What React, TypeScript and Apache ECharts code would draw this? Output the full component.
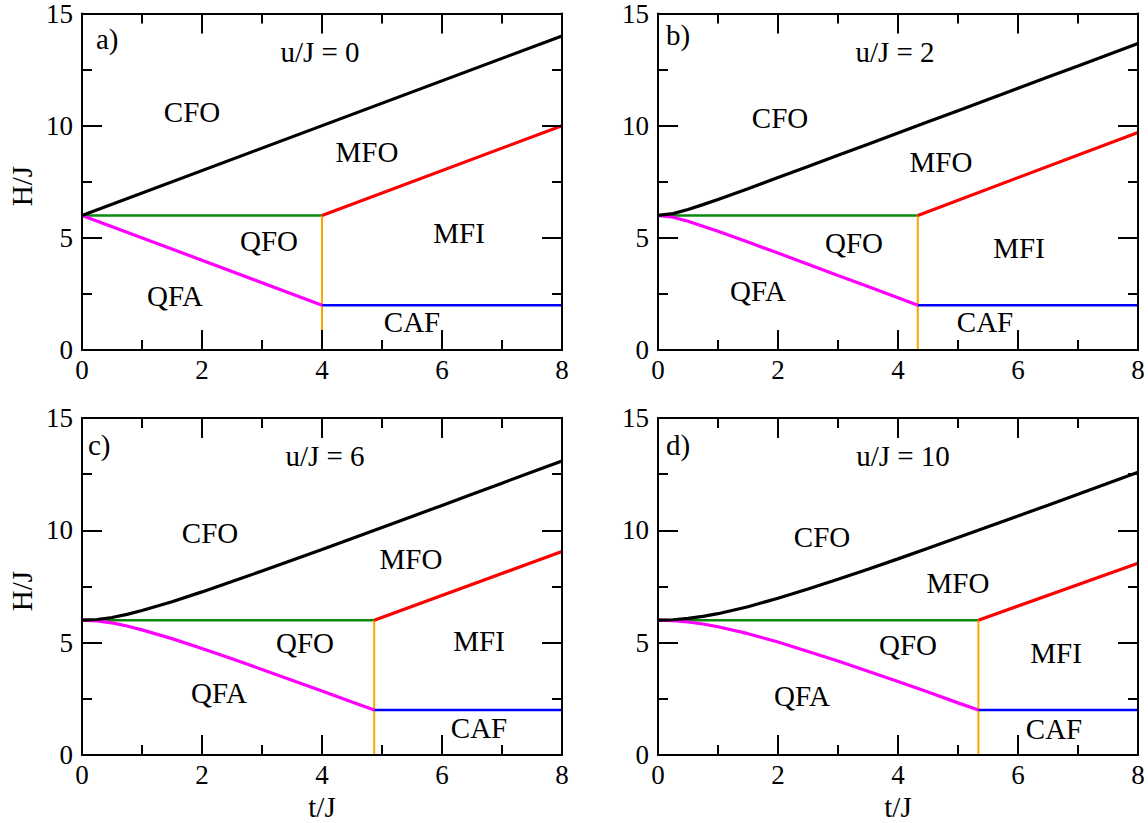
import React, { useEffect, useRef } from "react";
import * as echarts from "echarts";

// ---------- data ----------
const PANEL_TAGS = ["a)", "b)", "c)", "d)"];
const U_VALUES = [0, 2, 6, 10];

// transition point t_c where QFO / MFO / MFI / CAF meet, and red-line end value at t = 8
const T_CRIT = [4, 4.33, 4.87, 5.34];
const RED_END = [10, 9.7, 9.06, 8.54];
const H_SAT = 6; // green line level
const H_CAF = 2; // blue line level

const T_GRID = [0, 0.25, 0.5, 0.75, 1, 1.5, 2, 2.5, 3, 3.5, 4, 4.5, 5, 5.5, 6, 6.5, 7, 7.5, 8];

// black (CFO boundary)
const BLACK_T_A = [0, 8];
const BLACK_H_A = [6, 14];
const BLACK_H_B = [6.0, 6.08, 6.26, 6.48, 6.71, 7.19, 7.69, 8.18, 8.68, 9.17, 9.67, 10.17, 10.67, 11.17, 11.67, 12.17, 12.66, 13.16, 13.66];
const BLACK_H_C = [6.0, 6.03, 6.12, 6.26, 6.43, 6.82, 7.26, 7.72, 8.19, 8.67, 9.15, 9.64, 10.13, 10.62, 11.11, 11.61, 12.1, 12.6, 13.09];
const BLACK_H_D = [6.0, 6.02, 6.08, 6.17, 6.29, 6.6, 6.98, 7.39, 7.82, 8.27, 8.73, 9.2, 9.68, 10.16, 10.64, 11.12, 11.61, 12.1, 12.59];

// magenta (QFA boundary)
const MAG_T_A = [0, 4];
const MAG_H_A = [6, 2];
const MAG_T_B = [0, 0.25, 0.5, 0.75, 1, 1.5, 2, 2.5, 3, 3.5, 4, 4.33];
const MAG_H_B = [6.0, 5.92, 5.74, 5.52, 5.29, 4.81, 4.32, 3.82, 3.32, 2.83, 2.33, 2.0];
const MAG_T_C = [0, 0.25, 0.5, 0.75, 1, 1.5, 2, 2.5, 3, 3.5, 4, 4.5, 4.87];
const MAG_H_C = [6.0, 5.97, 5.88, 5.74, 5.57, 5.18, 4.74, 4.28, 3.81, 3.33, 2.85, 2.36, 2.0];
const MAG_T_D = [0, 0.25, 0.5, 0.75, 1, 1.5, 2, 2.5, 3, 3.5, 4, 4.5, 5, 5.34];
const MAG_H_D = [6.0, 5.98, 5.92, 5.83, 5.71, 5.4, 5.03, 4.61, 4.18, 3.73, 3.27, 2.8, 2.32, 2.0];

const BLACK_T = [BLACK_T_A, T_GRID, T_GRID, T_GRID];
const BLACK_H = [BLACK_H_A, BLACK_H_B, BLACK_H_C, BLACK_H_D];
const MAG_T = [MAG_T_A, MAG_T_B, MAG_T_C, MAG_T_D];
const MAG_H = [MAG_H_A, MAG_H_B, MAG_H_C, MAG_H_D];

const REGION_NAMES = ["CFO", "MFO", "QFO", "MFI", "QFA", "CAF"];

// ---------- layout ----------
const W = 1148;
const H = 823;
const GRID_LEFT = [82, 658, 82, 658];
const GRID_TOP = [13, 13, 418, 418];
const GRID_W = 480;
const GRID_H = 337;

// label centres (pixels) per panel, in REGION_NAMES order
const REGION_POS = [
  [[192, 112], [367, 152], [269, 241], [459, 233], [175, 296], [412, 322]],
  [[780, 118], [941, 162], [854, 243], [1019, 248], [758, 291], [985, 322]],
  [[210, 533], [411, 559], [305, 643], [479, 641], [219, 693], [479, 728]],
  [[822, 537], [958, 583], [908, 645], [1056, 653], [802, 696], [1054, 729]],
];
const TAG_POS = [[96, 39], [666, 35], [88, 445], [666, 445]];
const U_POS = [[320, 52], [895, 52], [325, 456], [903, 456]];

const SERIF = "Liberation Serif";

const pairs = (ts: number[], hs: number[]) => ts.map((t, i) => [t, hs[i]]);

function axisCommon(showLabel: boolean) {
  return {
    type: "value",
    axisLine: { show: true, onZero: false, lineStyle: { color: "#000", width: 2 } },
    axisTick: { show: true, inside: true, length: 20, lineStyle: { color: "#000", width: 2 } },
    minorTick: { show: true, splitNumber: 2, length: 10, lineStyle: { color: "#000", width: 2 } },
    splitLine: { show: false },
    minorSplitLine: { show: false },
    axisLabel: {
      show: showLabel,
      margin: 9,
      fontFamily: SERIF,
      fontSize: 27,
      lineHeight: 22,
      color: "#000",
    },
    z: 5,
  };
}

export default function App() {
  const ref = useRef<HTMLDivElement>(null);

  useEffect(() => {
    if (!ref.current) return;
    const chart = echarts.init(ref.current, undefined, { renderer: "svg" });

    const grids: any[] = [];
    const xAxes: any[] = [];
    const yAxes: any[] = [];
    const series: any[] = [];
    const graphics: any[] = [];

    for (let g = 0; g < 4; g++) {
      grids.push({
        left: GRID_LEFT[g],
        top: GRID_TOP[g],
        width: GRID_W,
        height: GRID_H,
        containLabel: false,
      });
      xAxes.push({ ...axisCommon(true), gridIndex: g, position: "bottom", min: 0, max: 8, interval: 2 });
      xAxes.push({ ...axisCommon(false), gridIndex: g, position: "top", min: 0, max: 8, interval: 2 });
      yAxes.push({ ...axisCommon(true), gridIndex: g, position: "left", min: 0, max: 15, interval: 5 });
      yAxes.push({ ...axisCommon(false), gridIndex: g, position: "right", min: 0, max: 15, interval: 5 });

      const xi = 2 * g;
      const yi = 2 * g;
      const tc = T_CRIT[g];
      const base = {
        type: "line",
        xAxisIndex: xi,
        yAxisIndex: yi,
        showSymbol: false,
        symbol: "none",
        smooth: false,
        silent: true,
      };
      series.push({ ...base, name: "green", data: [[0, H_SAT], [tc, H_SAT]], lineStyle: { color: "#0b8a0b", width: 2.5 }, z: 2 });
      series.push({ ...base, name: "orange", data: [[tc, H_SAT], [tc, 0]], lineStyle: { color: "#ffa500", width: 2 }, z: 2 });
      series.push({ ...base, name: "blue", data: [[tc, H_CAF], [8, H_CAF]], lineStyle: { color: "#0000ff", width: 2.5 }, z: 2 });
      series.push({ ...base, name: "magenta", data: pairs(MAG_T[g], MAG_H[g]), lineStyle: { color: "#ff00ff", width: 3.2 }, z: 3 });
      series.push({ ...base, name: "red", data: [[tc, H_SAT], [8, RED_END[g]]], lineStyle: { color: "#ff0000", width: 3.2 }, z: 3 });
      series.push({ ...base, name: "black", data: pairs(BLACK_T[g], BLACK_H[g]), lineStyle: { color: "#000000", width: 3.2 }, z: 3 });

      graphics.push({
        type: "text",
        x: TAG_POS[g][0],
        y: TAG_POS[g][1],
        style: { text: PANEL_TAGS[g], fontFamily: SERIF, fontSize: 29, fill: "#000", textAlign: "left", textVerticalAlign: "middle" },
      });
      graphics.push({
        type: "text",
        x: U_POS[g][0],
        y: U_POS[g][1],
        style: { text: `u/J = ${U_VALUES[g]}`, fontFamily: SERIF, fontSize: 29, fill: "#000", textAlign: "center", textVerticalAlign: "middle" },
      });
      REGION_NAMES.forEach((nm, k) => {
        graphics.push({
          type: "text",
          x: REGION_POS[g][k][0],
          y: REGION_POS[g][k][1],
          style: { text: nm, fontFamily: SERIF, fontSize: 29, fill: "#000", textAlign: "center", textVerticalAlign: "middle" },
        });
      });
    }

    // axis names
    [186, 591].forEach((yc) => {
      graphics.push({
        type: "text",
        x: 22,
        y: yc,
        rotation: Math.PI / 2,
        style: { text: "H/J", fontFamily: SERIF, fontSize: 29, fill: "#000", textAlign: "center", textVerticalAlign: "middle" },
      });
    });
    [322, 898].forEach((xc) => {
      graphics.push({
        type: "text",
        x: xc,
        y: 807,
        style: { text: "t/J", fontFamily: SERIF, fontSize: 29, lineHeight: 22, fill: "#000", textAlign: "center", textVerticalAlign: "middle" },
      });
    });

    chart.setOption({
      animation: false,
      backgroundColor: "#fff",
      grid: grids,
      xAxis: xAxes,
      yAxis: yAxes,
      series,
      graphic: graphics,
    });

    return () => chart.dispose();
  }, []);

  return (
    <div
      ref={ref}
      style={{ position: "fixed", left: 0, top: 0, width: W, height: H, background: "#fff" }}
    />
  );
}
